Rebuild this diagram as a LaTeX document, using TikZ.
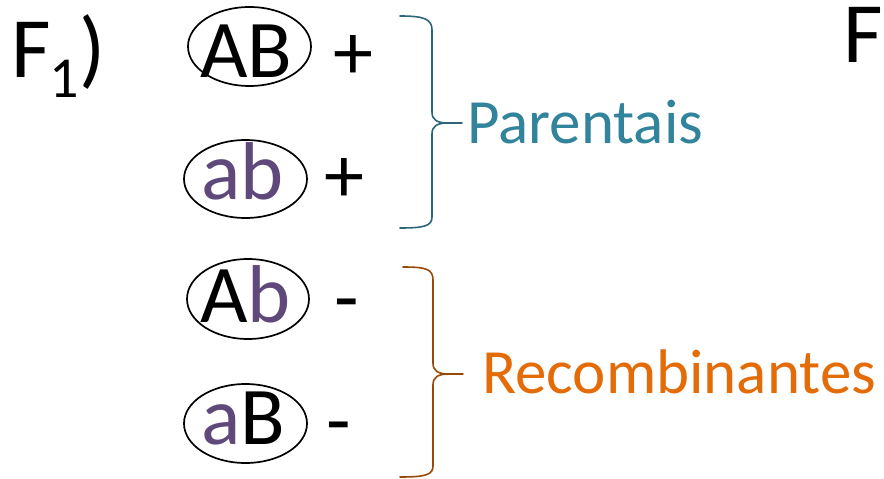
\documentclass[tikz,border=0pt]{standalone}
\usepackage{fontspec}
\setmainfont{Carlito}
\usetikzlibrary{shapes.geometric}
\definecolor{genpurple}{HTML}{5F497A}
\definecolor{partext}{HTML}{31849B}
\definecolor{parbrace}{HTML}{2B6577}
\definecolor{rectext}{HTML}{E36C09}
\definecolor{recbrace}{HTML}{984807}
\tikzset{
  big/.style={inner sep=0pt, anchor=base west, font=\fontsize{86}{90}\selectfont},
  gene/.style={inner sep=0pt, anchor=base west, font=\fontsize{82}{86}\selectfont},
  sign/.style={inner sep=0pt, anchor=base west, font=\fontsize{80}{84}\selectfont},
  label/.style={inner sep=0pt, anchor=base west, font=\fontsize{63}{66}\selectfont},
  ring/.style={draw=black, line width=1.7pt, ellipse, inner sep=0pt},
  bracepath/.style={line width=1.6pt, line cap=round, line join=round},
}
\newcommand{\pu}{\color{genpurple}}
\newcommand{\lowsub}[1]{\raisebox{-20pt}{\fontsize{58}{62}\selectfont #1}}
\begin{document}
\begin{tikzpicture}[x=1pt,y=-1pt]
\useasboundingbox (0,0) rectangle (884,479);
% F1)
\node[big] (F) at (11,77) {F\kern-1pt\lowsub{1})};
% top-right F (cut off in the reference)
\node[big] (F2) at (843,62) {F};
% ellipses
\node[ring, minimum width=123pt, minimum height=79pt] (e1) at (249.5,46.5) {};
\node[ring, minimum width=123pt, minimum height=78pt] (e2) at (245.5,179) {};
\node[ring, minimum width=122pt, minimum height=80pt] (e3) at (248,299) {};
\node[ring, minimum width=123pt, minimum height=79pt] (e4) at (245.5,423.5) {};
% genotypes
\node[gene] (t1) at (200,77) {AB};
\node[gene] (t2) at (201,199) {\pu ab};
\node[gene] (t3) at (200,322) {A{\pu b}};
\node[gene] (t4) at (201,444) {{\pu a}B};
% signs
\node[sign] (s1) at (333,79) {+};
\node[sign] (s2) at (324,202) {+};
\node[sign] (s3) at (334,324) {-};
\node[sign] (s4) at (326,447) {-};
% labels
\node[label, text=partext] (lp) at (467,143) {Parentais};
\node[label, text=rectext] (lr) at (482,393) {Recombinantes};
% braces
\coordinate (pa) at (400,16);
\coordinate (pt) at (462,123);
\coordinate (pb) at (400,228);
\draw[bracepath, draw=parbrace] (pa) .. controls (424,16) and (432,19) .. (432,30)
  -- (432,112) .. controls (432,120) and (437,123) .. (448,123) -- (pt);
\draw[bracepath, draw=parbrace] (448,123) .. controls (437,123) and (432,126) .. (432,134)
  -- (432,217) .. controls (432,226) and (424,228) .. (pb);
\coordinate (ra) at (403,267);
\coordinate (rt) at (463,374);
\coordinate (rb) at (400,477);
\draw[bracepath, draw=recbrace] (ra) .. controls (426,267) and (433,269) .. (433,280)
  -- (433,363) .. controls (433,371) and (438,374) .. (449,374) -- (rt);
\draw[bracepath, draw=recbrace] (449,374) .. controls (438,374) and (433,377) .. (433,385)
  -- (433,466) .. controls (433,475) and (425,477) .. (rb);
\end{tikzpicture}
\end{document}
